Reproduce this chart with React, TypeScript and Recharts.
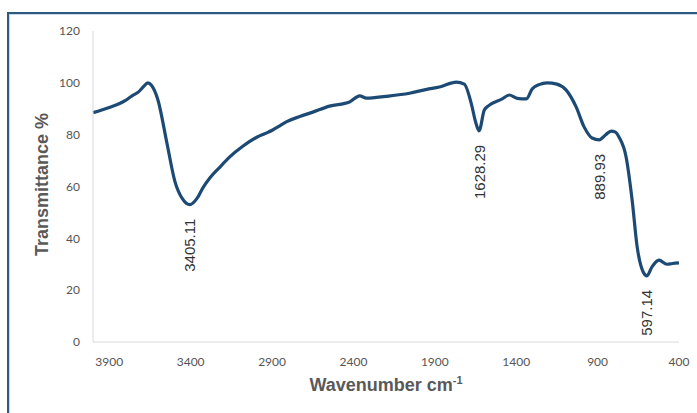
import React from 'react';
import { LineChart, Line, XAxis, YAxis, LabelList, Label } from 'recharts';

// FTIR spectrum: wavenumber (cm-1) vs transmittance (%)
const wavenumbers = [
  4000, 3900, 3800, 3760, 3720, 3690, 3663, 3640, 3601, 3546, 3497, 3450, 3405.11, 3360, 3325,
  3280, 3220, 3160, 3080, 2994, 2940, 2896, 2850, 2810, 2730, 2650, 2547, 2424, 2362, 2320,
  2200, 2056, 1950, 1872, 1768, 1719, 1676, 1650, 1628.29, 1596, 1565, 1486, 1443, 1394, 1338,
  1302, 1260, 1210, 1150, 1093, 1032, 983, 934, 889.93, 850, 817, 790, 768, 725, 688,
  657, 620, 597.14, 566, 523, 474, 440, 400,
];

const transmittance = [
  88.5, 90.5, 93.2, 95, 96.5, 98.5, 100, 99, 93.4, 76.8, 62, 55.2, 53, 55.5, 59.5,
  63.5, 67.5, 71.4, 75.5, 79, 80.5, 81.8, 83.5, 85, 87, 88.7, 91, 92.6, 95, 94.1,
  94.8, 96, 97.5, 98.4, 100.3, 99.5, 92, 85, 81.5, 89.5, 91.4, 93.8, 95.3, 94, 93.8,
  97.6, 99.3, 100, 99.5, 97.2, 90.7, 83, 78.7, 78, 80, 81.4, 81, 79, 71.4, 54.8,
  36.7, 27, 25.5, 29, 31.6, 30, 30.3, 30.5,
];

// band positions that get a label
const peaks = [3405.11, 1628.29, 889.93, 597.14];

const xTicks = [3900, 3400, 2900, 2400, 1900, 1400, 900, 400];
const yTicks = [0, 20, 40, 60, 80, 100, 120];

const data = wavenumbers.map((wn, i) => ({ wn, t: transmittance[i] }));

const tickStyle = { fontSize: 12, fill: '#555', fontFamily: 'Lato, sans-serif' };
const titleColor = '#595959';

const PeakLabel = (props: any) => {
  const { x, y, value } = props;
  if (!peaks.includes(value)) return null;
  const ty = y + 14;
  return (
    <text
      x={x}
      y={ty}
      transform={`rotate(-90 ${x} ${ty})`}
      textAnchor="end"
      dominantBaseline="central"
      fontSize={15}
      fill="#333"
      fontFamily="'Liberation Sans', Arial, sans-serif"
    >
      {value.toFixed(2)}
    </text>
  );
};

const XTitle = (props: any) => {
  const { viewBox } = props;
  const cx = viewBox.x + viewBox.width / 2;
  return (
    <text
      x={cx}
      y={viewBox.y + 49}
      textAnchor="middle"
      fontSize={18}
      fontWeight="bold"
      fill={titleColor}
      fontFamily="'Liberation Sans', Arial, sans-serif"
    >
      Wavenumber cm
      <tspan fontSize={11} dy={-7}>-1</tspan>
    </text>
  );
};

const YTitle = (props: any) => {
  const { viewBox } = props;
  const cx = viewBox.x + 9;
  const cy = viewBox.y + viewBox.height / 2 - 2;
  return (
    <text
      x={cx}
      y={cy}
      transform={`rotate(-90 ${cx} ${cy})`}
      textAnchor="middle"
      dominantBaseline="central"
      fontSize={18}
      fontWeight="bold"
      fill={titleColor}
      fontFamily="'Liberation Sans', Arial, sans-serif"
    >
      Transmittance %
    </text>
  );
};

const App: React.FC = () => {
  return (
    <div style={{ position: 'absolute', left: 0, top: 0, width: 697, height: 413, overflow: 'hidden', background: '#fff' }}>
      <div
        style={{
          position: 'absolute',
          left: 7,
          top: 12,
          width: 720,
          height: 440,
          borderTop: '2px solid #2e5a80',
          borderLeft: '2px solid #2e5a80',
          boxShadow: 'inset 1px 1px 0 #c6daee',
        }}
      />
      <div style={{ position: 'absolute', left: 0, top: 0 }}>
        <LineChart width={697} height={413} data={data} margin={{ top: 31, right: 18, bottom: 41, left: 33 }}>
          <XAxis
            dataKey="wn"
            type="number"
            domain={[400, 4000]}
            reversed
            ticks={xTicks}
            tick={tickStyle}
            tickLine={false}
            tickMargin={9}
            axisLine={{ stroke: '#d9d9d9' }}
            height={30}
            interval={0}
          >
            <Label content={XTitle} />
          </XAxis>
          <YAxis
            type="number"
            domain={[0, 120]}
            ticks={yTicks}
            tick={tickStyle}
            tickLine={false}
            tickMargin={7}
            axisLine={{ stroke: '#d9d9d9' }}
            width={60}
            interval={0}
          >
            <Label content={YTitle} />
          </YAxis>
          <Line
            type="monotone"
            dataKey="t"
            stroke="#1d4a75"
            strokeWidth={3.2}
            dot={false}
            isAnimationActive={false}
          >
            <LabelList dataKey="wn" content={PeakLabel} />
          </Line>
        </LineChart>
      </div>
    </div>
  );
};

export default App;
